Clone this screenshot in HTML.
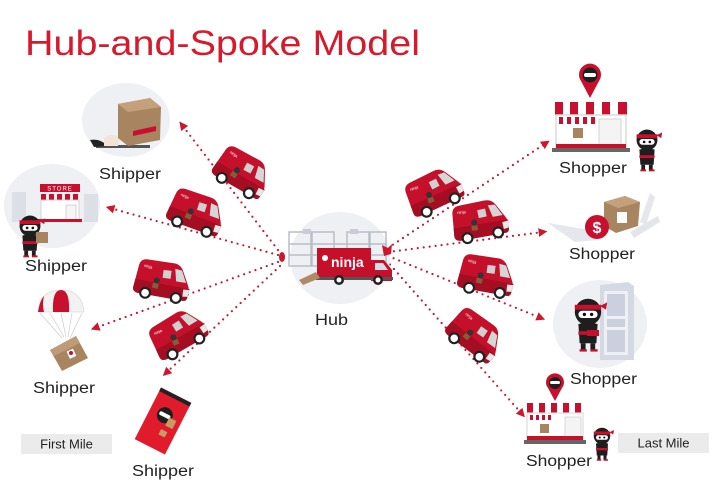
<!DOCTYPE html>
<html>
<head>
<meta charset="utf-8">
<style>
html,body{margin:0;padding:0;background:#fff;}
svg{display:block;}
text{font-family:"Liberation Sans",sans-serif;}
</style>
</head>
<body>
<svg width="720" height="484" viewBox="0 0 720 484" xmlns="http://www.w3.org/2000/svg">
<defs>
  <marker id="ah" viewBox="0 0 10 10" refX="5" refY="5" markerWidth="4" markerHeight="4" orient="auto" markerUnits="strokeWidth">
    <path d="M0 0 L10 5 L0 10 Z" fill="#d0152c"/>
  </marker>
  <g id="van">
    <path d="M3 12 Q3 5 10 4 L36 1 Q43 0 47 6 L55 18 Q58 22 58 27 L58 31 Q58 35 54 35 L9 39 Q3 39 3 34 Z" fill="#c5102b"/>
    <path d="M3 26 L58 22 L58 31 Q58 35 54 35 L9 39 Q3 39 3 34 Z" fill="#a50d23"/>
    <path d="M39 6 L46 6 L53 17 L43 18 Z" fill="#d6d6d6"/>
    <path d="M28 10 L36 9 L37 17 L29 18 Z" fill="#d0d0d0"/>
    <path d="M52 24 L58 23 L58 30 L53 31 Z" fill="#e8e8e8"/>
    <circle cx="16" cy="37" r="6" fill="#222"/><circle cx="16" cy="37" r="3.8" fill="#fff"/>
    <circle cx="47" cy="34" r="6" fill="#222"/><circle cx="47" cy="34" r="3.8" fill="#fff"/>
    <circle cx="24" cy="22" r="3" fill="#333"/><rect x="21" y="25" width="6" height="5" fill="#8a5a3a"/>
    <text x="8" y="12" font-size="4" fill="#fff">ninja</text>
  </g>
  <g id="ninja">
    <ellipse cx="0" cy="0" rx="11" ry="11" fill="#1e1e1e"/>
    <rect x="-11" y="-6" width="22" height="4" fill="#c8102e"/>
    <path d="M10 -5 L16 -8 L15 -2 Z" fill="#c8102e"/>
    <rect x="-8" y="-1" width="16" height="6" rx="3" fill="#fff"/>
    <circle cx="-3" cy="2" r="1.4" fill="#111"/><circle cx="3" cy="2" r="1.4" fill="#111"/>
    <path d="M-8 10 Q0 8 8 10 L7 26 L-7 26 Z" fill="#1e1e1e"/>
    <rect x="-8" y="16" width="16" height="3" fill="#c8102e"/>
    <rect x="-6" y="26" width="4" height="6" fill="#1e1e1e"/><rect x="2" y="26" width="4" height="6" fill="#1e1e1e"/>
    <rect x="-7" y="31" width="6" height="2" fill="#c8102e"/><rect x="2" y="31" width="6" height="2" fill="#c8102e"/>
  </g>
</defs>

<!-- Title -->
<text x="25" y="55" font-size="35" fill="#d7192d" textLength="395" lengthAdjust="spacingAndGlyphs">Hub-and-Spoke Model</text>

<!-- Dotted connectors -->
<g stroke="#d0152c" stroke-width="2.2" stroke-linecap="round" stroke-dasharray="0 6" fill="none" marker-end="url(#ah)">
  <line x1="278" y1="250" x2="182" y2="125"/>
  <line x1="278" y1="255" x2="110" y2="208"/>
  <line x1="278" y1="262" x2="95" y2="328"/>
  <line x1="280" y1="266" x2="166" y2="373"/>
  <line x1="388" y1="248" x2="546" y2="143"/>
  <line x1="388" y1="252" x2="543" y2="232"/>
  <line x1="388" y1="256" x2="541" y2="318"/>
  <line x1="386" y1="260" x2="522" y2="414"/>
</g>

<!-- Vans -->
<use href="#van" transform="translate(243,172) rotate(35) translate(-30,-20)"/>
<use href="#van" transform="translate(197,212) rotate(25) translate(-30,-20)"/>
<use href="#van" transform="translate(163,280) rotate(15) translate(-30,-20)"/>
<use href="#van" transform="translate(178,333) rotate(-25) translate(-30,-20)"/>
<use href="#van" transform="translate(434,191) rotate(-20) translate(-30,-20)"/>
<use href="#van" transform="translate(480,220) rotate(-5) translate(-30,-20)"/>
<use href="#van" transform="translate(487,275) rotate(15) translate(-30,-20)"/>
<use href="#van" transform="translate(476,335) rotate(42) translate(-30,-20)"/>

<!-- Hub -->
<ellipse cx="340" cy="258" rx="50" ry="46" fill="#eef0f4"/>
<g stroke="#b8bec8" stroke-width="1.5" fill="none">
  <rect x="289" y="232" width="22" height="34"/>
  <rect x="312" y="232" width="22" height="34"/>
  <rect x="347" y="232" width="22" height="34"/>
  <rect x="370" y="232" width="16" height="34"/>
  <line x1="289" y1="244" x2="386" y2="244"/>
  <line x1="289" y1="255" x2="386" y2="255"/>
</g>
<rect x="303" y="229" width="8" height="5" fill="#c9ccd3"/>
<rect x="350" y="229" width="8" height="5" fill="#c9ccd3"/>
<rect x="317" y="248" width="54" height="30" fill="#c5102b"/>
<text x="331" y="267" font-size="14" font-weight="bold" fill="#fff">ninja</text>
<circle cx="325" cy="258" r="3" fill="#fff"/>
<path d="M371 260 L384 260 L392 270 L392 281 L371 281 Z" fill="#c5102b"/>
<path d="M375 263 L383 263 L388 270 L375 270 Z" fill="#d8dce4"/>
<rect x="316" y="277" width="77" height="3" fill="#555"/>
<circle cx="339" cy="280" r="5" fill="#222"/><circle cx="339" cy="280" r="2.5" fill="#fff"/>
<circle cx="378" cy="280" r="5" fill="#222"/><circle cx="378" cy="280" r="2.5" fill="#fff"/>
<path d="M299 280 L316 272 L320 278 L303 285 Z" fill="#b08a66"/>
<ellipse cx="282" cy="257" rx="3" ry="5" fill="#d0152c"/>
<path d="M382 245 L388 248 L392 244 L391 254 L384 256 Z" fill="#d0152c"/>

<!-- Top shipper -->
<ellipse cx="126" cy="120" rx="44" ry="37" fill="#eef0f4"/>
<path d="M96 145 L150 145 L150 148 L96 148 Z" fill="#555"/>
<path d="M90 140 Q100 138 108 146 L94 147 Z" fill="#222"/>
<path d="M104 138 Q112 132 120 138 L118 146 L104 146 Z" fill="#f1e4d6"/>
<path d="M118 104 L150 98 L161 107 L160 140 L128 146 L118 138 Z" fill="#a98461"/>
<path d="M118 104 L150 98 L161 107 L128 112 Z" fill="#c4a07d"/>
<path d="M133 131 L156 126 L156 131 L133 136 Z" fill="#c8102e"/>

<!-- Store shipper -->
<ellipse cx="52" cy="206" rx="48" ry="42" fill="#eef0f4"/>
<rect x="12" y="192" width="14" height="30" fill="#dcdfe5"/>
<rect x="84" y="194" width="14" height="28" fill="#dcdfe5"/>
<rect x="40" y="184" width="40" height="8" fill="#c8102e"/>
<text x="60" y="190.5" font-size="6" fill="#fff" text-anchor="middle" letter-spacing="1">STORE</text>
<g fill="#c8102e">
  <rect x="41" y="194" width="5" height="6"/><rect x="49" y="194" width="5" height="6"/><rect x="57" y="194" width="5" height="6"/><rect x="65" y="194" width="5" height="6"/><rect x="73" y="194" width="5" height="6"/>
</g>
<rect x="41" y="200" width="38" height="20" fill="#fff" stroke="#ccc" stroke-width="0.8"/>
<rect x="66" y="205" width="10" height="15" fill="#f5f5f5" stroke="#bbb" stroke-width="0.6"/>
<rect x="38" y="219" width="44" height="3" fill="#c8102e"/>
<use href="#ninja" transform="translate(30,226) scale(0.95)"/>
<rect x="36" y="232" width="12" height="11" fill="#a98461"/>

<!-- Parachute -->
<path d="M38 312 Q40 290 61 290 Q82 290 84 312 Z" fill="#f2f2f2" stroke="#ddd" stroke-width="0.8"/>
<path d="M53 312 Q52 290 61 290 Q70 290 69 312 Z" fill="#c8102e"/>
<path d="M38 312 Q40 300 44 296 Q42 304 44 312 Z" fill="#c8102e"/>
<g stroke="#ccc" stroke-width="0.7">
  <line x1="40" y1="313" x2="62" y2="338"/><line x1="50" y1="313" x2="64" y2="337"/><line x1="61" y1="313" x2="66" y2="337"/><line x1="72" y1="313" x2="68" y2="337"/><line x1="82" y1="313" x2="70" y2="338"/>
</g>
<path d="M50 350 L76 336 L88 358 L62 371 Z" fill="#a98461"/>
<path d="M50 350 L76 336 L80 343 L54 356 Z" fill="#bf9a76"/>
<rect x="68" y="350" width="7" height="8" fill="#fff" transform="rotate(-25 71 354)"/>
<circle cx="71" cy="353" r="2" fill="#c8102e"/>

<!-- Bottom shipper pouch -->
<g transform="translate(163,421) rotate(27)">
  <rect x="-17" y="-29" width="34" height="58" fill="#e11b2b"/>
  <rect x="-17" y="-29" width="34" height="4" fill="#222"/>
  <circle cx="-1" cy="-6" r="8" fill="#1e1e1e"/>
  <rect x="-7" y="-8" width="12" height="4" rx="2" fill="#fff"/>
  <rect x="4" y="-6" width="8" height="9" fill="#c99a66"/>
  <rect x="2" y="8" width="7" height="6" fill="#c99a66"/>
</g>

<!-- Right top shopper store -->
<path d="M590 98 L581 81 A11 11 0 1 1 599 81 Z" fill="#c8102e"/>
<circle cx="590" cy="75" r="7.5" fill="#1e1e1e"/>
<rect x="584" y="73" width="12" height="4" rx="2" fill="#fff"/>
<rect x="555" y="102" width="72" height="13" fill="#fff"/>
<g fill="#c8102e">
  <rect x="555" y="102" width="8" height="13"/><rect x="570" y="102" width="8" height="13"/><rect x="586" y="102" width="8" height="13"/><rect x="602" y="102" width="8" height="13"/><rect x="618" y="102" width="9" height="13"/>
  <rect x="559" y="117" width="4" height="7"/><rect x="567" y="117" width="4" height="7"/><rect x="575" y="117" width="4" height="7"/><rect x="583" y="117" width="4" height="7"/><rect x="591" y="117" width="4" height="7"/>
</g>
<rect x="556" y="115" width="70" height="33" fill="none" stroke="#d8dbe0" stroke-width="1.5"/>
<rect x="599" y="119" width="22" height="29" fill="#f4f4f4" stroke="#ccc" stroke-width="0.8"/>
<rect x="573" y="128" width="10" height="10" fill="#a98461"/>
<rect x="556" y="144" width="70" height="4" fill="#c8102e"/>
<rect x="552" y="148" width="78" height="4" fill="#666"/>
<use href="#ninja" transform="translate(647,140) scale(0.95)"/>

<!-- Shopper 2 (payment) -->
<path d="M548 223 L590 230 L598 240 L575 242 Z" fill="#e5e7ec"/>
<path d="M640 222 L650 193 L655 197 L646 225 Z" fill="#e5e7ec"/>
<path d="M630 232 L658 216 L660 222 L634 238 Z" fill="#e3e5ea"/>
<path d="M604 202 L625 196 L640 202 L638 226 L616 233 L604 226 Z" fill="#a98461"/>
<path d="M604 202 L625 196 L640 202 L618 208 Z" fill="#c4a07d"/>
<rect x="617" y="212" width="10" height="11" fill="#fff"/>
<circle cx="597" cy="227" r="12" fill="#c8102e"/>
<text x="597" y="233" font-size="16" font-weight="bold" fill="#fff" text-anchor="middle">$</text>

<!-- Shopper 3 (door) -->
<ellipse cx="600" cy="324" rx="47" ry="44" fill="#eef0f4"/>
<path d="M600 285 L628 282 L634 286 L634 360 L600 360 Z" fill="#d5d9e4"/>
<rect x="604" y="291" width="24" height="64" fill="#eef0f6"/>
<rect x="607" y="294" width="18" height="22" fill="#cbd0de"/>
<rect x="607" y="319" width="18" height="8" fill="#cbd0de"/>
<rect x="607" y="330" width="18" height="22" fill="#cbd0de"/>
<use href="#ninja" transform="translate(588,312) scale(1.2)"/>
<rect x="587" y="330" width="12" height="6" fill="#c8102e"/>

<!-- Shopper 4 store -->
<path d="M555 401 L548 388 A9 9 0 1 1 562 388 Z" fill="#c8102e"/>
<circle cx="555" cy="383" r="6" fill="#1e1e1e"/>
<rect x="550" y="381" width="10" height="3" rx="1.5" fill="#fff"/>
<g fill="#c8102e">
  <rect x="527" y="403" width="6" height="10"/><rect x="539" y="403" width="6" height="10"/><rect x="551" y="403" width="6" height="10"/><rect x="563" y="403" width="6" height="10"/><rect x="575" y="403" width="6" height="10"/>
  <rect x="530" y="415" width="3" height="5"/><rect x="536" y="415" width="3" height="5"/><rect x="542" y="415" width="3" height="5"/><rect x="548" y="415" width="3" height="5"/>
</g>
<rect x="527" y="413" width="56" height="27" fill="none" stroke="#d8dbe0" stroke-width="1.2"/>
<rect x="565" y="417" width="16" height="23" fill="#f4f4f4" stroke="#ccc" stroke-width="0.7"/>
<rect x="540" y="424" width="9" height="9" fill="#a98461"/>
<rect x="527" y="436" width="56" height="4" fill="#c8102e"/>
<rect x="524" y="440" width="62" height="4" fill="#666"/>
<use href="#ninja" transform="translate(602,436) scale(0.75)"/>

<!-- Labels -->
<g font-size="15.5" fill="#222">
  <text x="99" y="179" textLength="62" lengthAdjust="spacingAndGlyphs">Shipper</text>
  <text x="25" y="271" textLength="62" lengthAdjust="spacingAndGlyphs">Shipper</text>
  <text x="33" y="393" textLength="62" lengthAdjust="spacingAndGlyphs">Shipper</text>
  <text x="132" y="476" textLength="62" lengthAdjust="spacingAndGlyphs">Shipper</text>
  <text x="315" y="325" textLength="33" lengthAdjust="spacingAndGlyphs">Hub</text>
  <text x="559" y="173" textLength="68" lengthAdjust="spacingAndGlyphs">Shopper</text>
  <text x="569" y="259" textLength="66" lengthAdjust="spacingAndGlyphs">Shopper</text>
  <text x="570" y="384" textLength="67" lengthAdjust="spacingAndGlyphs">Shopper</text>
  <text x="526" y="466" textLength="66" lengthAdjust="spacingAndGlyphs">Shopper</text>
</g>
<rect x="21" y="434" width="91" height="20" fill="#ebebeb"/>
<text x="66.5" y="448.5" font-size="13" fill="#222" text-anchor="middle">First Mile</text>
<rect x="618" y="433" width="91" height="20" fill="#ebebeb"/>
<text x="663.5" y="447.5" font-size="13" fill="#222" text-anchor="middle">Last Mile</text>
</svg>
</body>
</html>
